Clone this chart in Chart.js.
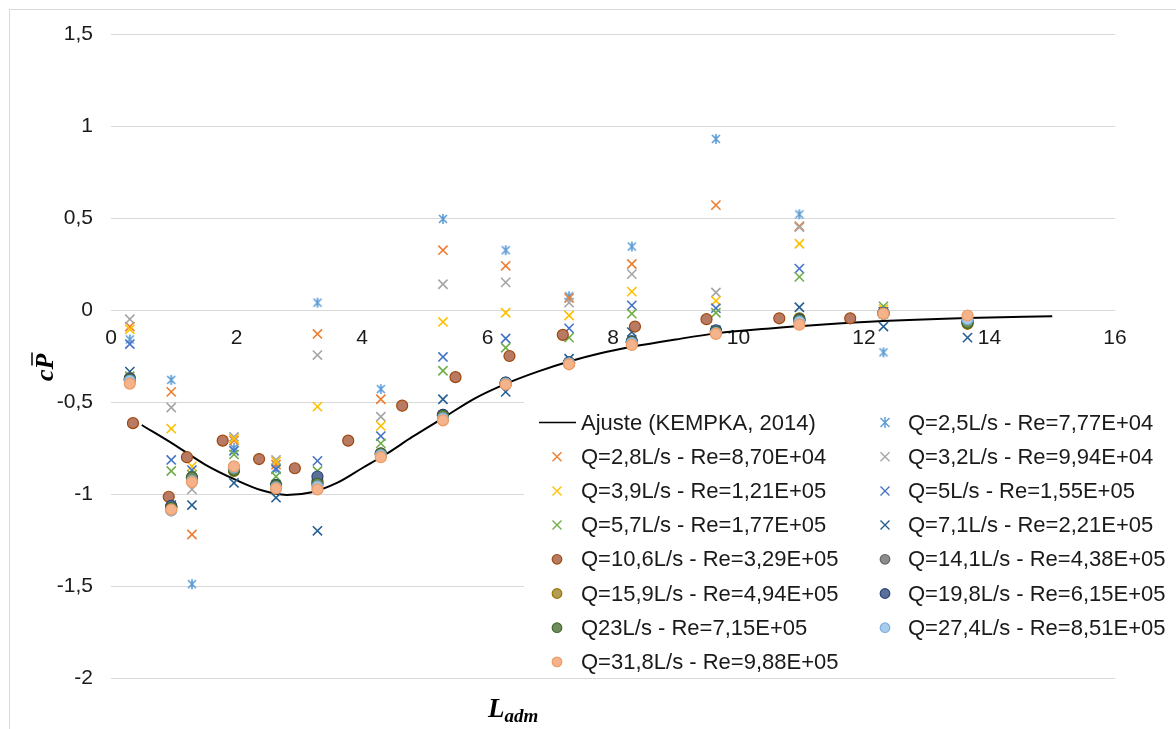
<!DOCTYPE html>
<html>
<head>
<meta charset="utf-8">
<script src="https://cdn.jsdelivr.net/npm/chart.js@4.4.1/dist/chart.umd.min.js"></script>
<style>
  html, body { margin: 0; padding: 0; background: #fff; }
  #wrap { width: 1176px; height: 729px; position: relative; }
</style>
</head>
<body>
<div id="wrap"><canvas id="chart-cp"></canvas></div>
<script>
// L_adm of the pressure taps (most series)
const lAdm = [0.30, 0.96, 1.29, 1.96, 2.63, 3.29, 4.30, 5.29, 6.29, 7.30, 8.30, 9.64, 10.97, 12.31, 13.65];
// Q=10,6 L/s was read at other taps
const lAdm106 = [0.35, 0.92, 1.21, 1.78, 2.36, 2.93, 3.78, 4.64, 5.49, 6.35, 7.20, 8.35, 9.49, 10.65, 11.78];

// fitted curve (KEMPKA, 2014)
const fitL = [0.49, 1.0, 1.5, 2.0, 2.4, 2.8, 3.2, 3.6, 4.0, 4.4, 4.8, 5.3, 5.8, 6.3, 6.8, 7.3, 7.8, 8.3, 9.0, 9.65, 10.5, 11.3, 12.3, 13.65, 15.0];
const fitCp = [-0.625, -0.73, -0.84, -0.925, -0.98, -1.005, -0.99, -0.94, -0.86, -0.78, -0.69, -0.585, -0.48, -0.40, -0.335, -0.28, -0.235, -0.20, -0.16, -0.127, -0.10, -0.08, -0.06, -0.043, -0.034];

// mean pressure coefficient per flow rate
const cpQ25 = [-0.16, -0.38, -1.49, -0.75, -0.86, 0.04, -0.43, 0.495, 0.325, 0.075, 0.345, 0.93, 0.52, -0.23, -0.06];
const cpQ28 = [-0.09, -0.445, -1.22, -0.71, -0.84, -0.13, -0.485, 0.325, 0.24, 0.065, 0.25, 0.57, 0.455, -0.01, -0.06];
const cpQ32 = [-0.05, -0.53, -0.975, -0.69, -0.815, -0.245, -0.58, 0.14, 0.15, 0.04, 0.195, 0.095, 0.45, -0.01, -0.065];
const cpQ39 = [-0.105, -0.645, -0.85, -0.70, -0.825, -0.525, -0.63, -0.065, -0.015, -0.03, 0.10, 0.05, 0.36, 0.005, -0.06];
const cpQ50 = [-0.185, -0.815, -0.87, -0.765, -0.865, -0.82, -0.685, -0.255, -0.155, -0.10, 0.025, 0.01, 0.225, -0.01, -0.06];
const cpQ57 = [-0.36, -0.875, -0.895, -0.785, -0.905, -0.875, -0.725, -0.33, -0.205, -0.15, -0.02, -0.015, 0.18, 0.02, -0.06];
const cpQ71 = [-0.335, -1.06, -1.06, -0.94, -1.02, -1.20, -0.79, -0.485, -0.445, -0.265, -0.12, -0.11, 0.015, -0.09, -0.15];
const cpQ106 = [-0.615, -1.015, -0.80, -0.71, -0.81, -0.86, -0.71, -0.52, -0.365, -0.25, -0.135, -0.09, -0.05, -0.045, -0.045];
const cpQ141 = [-0.37, -1.07, -0.915, -0.865, -0.955, -0.93, -0.78, -0.57, -0.395, -0.285, -0.17, -0.115, -0.055, -0.015, -0.06];
const cpQ159 = [-0.38, -1.07, -0.92, -0.875, -0.96, -0.94, -0.785, -0.575, -0.40, -0.29, -0.175, -0.12, -0.045, -0.02, -0.075];
const cpQ198 = [-0.375, -1.065, -0.91, -0.86, -0.95, -0.905, -0.78, -0.57, -0.395, -0.285, -0.17, -0.11, -0.05, -0.015, -0.065];
const cpQ23 = [-0.38, -1.075, -0.91, -0.87, -0.955, -0.945, -0.78, -0.575, -0.40, -0.29, -0.175, -0.12, -0.055, -0.02, -0.07];
const cpQ274 = [-0.385, -1.09, -0.93, -0.855, -0.965, -0.96, -0.79, -0.59, -0.40, -0.29, -0.18, -0.125, -0.065, -0.02, -0.05];
const cpQ318 = [-0.40, -1.085, -0.935, -0.85, -0.97, -0.975, -0.80, -0.60, -0.405, -0.295, -0.19, -0.13, -0.08, -0.02, -0.03];

const xTicks = [0, 2, 4, 6, 8, 10, 12, 14, 16];
const yTicks = [-2, -1.5, -1, -0.5, 0, 0.5, 1, 1.5];

function pts(xs, ys) {
  return xs.map((x, i) => ({ x: x, y: ys[i] }));
}

// excel-like "star" marker: an x with a vertical bar
function starMarker(color, size) {
  const c = document.createElement("canvas");
  c.width = size;
  c.height = size;
  const g = c.getContext("2d");
  const m = size / 2, r = size / 2 - 1;
  g.strokeStyle = color;
  g.lineWidth = 1.6;
  g.beginPath();
  g.moveTo(m - r * 0.8, m - r * 0.8); g.lineTo(m + r * 0.8, m + r * 0.8);
  g.moveTo(m + r * 0.8, m - r * 0.8); g.lineTo(m - r * 0.8, m + r * 0.8);
  g.moveTo(m, m - r); g.lineTo(m, m + r);
  g.stroke();
  return c;
}

// [label, x values, y values, marker, stroke, fill]
const series = [
  ["Ajuste (KEMPKA, 2014)", fitL, fitCp, "line", "#000000", null],
  ["Q=2,5L/s - Re=7,77E+04", lAdm, cpQ25, "star", "#5B9BD5", null],
  ["Q=2,8L/s - Re=8,70E+04", lAdm, cpQ28, "x", "#ED7D31", null],
  ["Q=3,2L/s - Re=9,94E+04", lAdm, cpQ32, "x", "#A5A5A5", null],
  ["Q=3,9L/s - Re=1,21E+05", lAdm, cpQ39, "x", "#FFC000", null],
  ["Q=5L/s - Re=1,55E+05", lAdm, cpQ50, "x", "#4472C4", null],
  ["Q=5,7L/s - Re=1,77E+05", lAdm, cpQ57, "x", "#70AD47", null],
  ["Q=7,1L/s - Re=2,21E+05", lAdm, cpQ71, "x", "#255E91", null],
  ["Q=10,6L/s - Re=3,29E+05", lAdm106, cpQ106, "circle", "#9E480E", "#b87a62"],
  ["Q=14,1L/s - Re=4,38E+05", lAdm, cpQ141, "circle", "#636363", "#8c8c8c"],
  ["Q=15,9L/s - Re=4,94E+05", lAdm, cpQ159, "circle", "#997300", "#b59c55"],
  ["Q=19,8L/s - Re=6,15E+05", lAdm, cpQ198, "circle", "#264478", "#5b6f98"],
  ["Q23L/s - Re=7,15E+05", lAdm, cpQ23, "circle", "#43682B", "#6f8c5c"],
  ["Q=27,4L/s - Re=8,51E+05", lAdm, cpQ274, "circle", "#7CAFDD", "#a8cbeb"],
  ["Q=31,8L/s - Re=9,88E+05", lAdm, cpQ318, "circle", "#EE9A62", "#f5b38c"],
];

const datasets = series.map((s, i) => {
  const ds = {
    label: s[0],
    data: pts(s[1], s[2]),
    order: series.length - i, // later series on top, like excel
  };
  if (s[3] === "line") {
    ds.showLine = true;
    ds.borderColor = s[4];
    ds.borderWidth = 2;
    ds.pointRadius = 0;
    ds.cubicInterpolationMode = "monotone";
  } else if (s[3] === "star") {
    ds.pointStyle = starMarker(s[4], 12);
    ds.pointRadius = 6;
  } else if (s[3] === "x") {
    ds.pointStyle = "crossRot";
    ds.pointRadius = 6.5;
    ds.borderColor = s[4];
    ds.borderWidth = 1.6;
  } else {
    ds.pointStyle = "circle";
    ds.pointRadius = 5.5;
    ds.borderColor = s[4];
    ds.backgroundColor = s[5];
    ds.borderWidth = 1.2;
  }
  return ds;
});

function drawLegendMarker(ctx, s, x, y) {
  ctx.save();
  if (s[3] === "line") {
    ctx.strokeStyle = s[4];
    ctx.lineWidth = 1.6;
    ctx.beginPath();
    ctx.moveTo(x - 18, y);
    ctx.lineTo(x + 19, y);
    ctx.stroke();
  } else if (s[3] === "circle") {
    ctx.fillStyle = s[5];
    ctx.strokeStyle = s[4];
    ctx.lineWidth = 1.2;
    ctx.beginPath();
    ctx.arc(x, y, 4.8, 0, Math.PI * 2);
    ctx.fill();
    ctx.stroke();
  } else {
    ctx.strokeStyle = s[4];
    ctx.lineWidth = 1.4;
    ctx.beginPath();
    ctx.moveTo(x - 4.5, y - 4.5); ctx.lineTo(x + 4.5, y + 4.5);
    ctx.moveTo(x + 4.5, y - 4.5); ctx.lineTo(x - 4.5, y + 4.5);
    if (s[3] === "star") {
      ctx.moveTo(x, y - 5.5); ctx.lineTo(x, y + 5.5);
    }
    ctx.stroke();
  }
  ctx.restore();
}

const decorPlugin = {
  id: "excelDecor",
  beforeDraw(chart) {
    const ctx = chart.ctx;
    ctx.save();
    ctx.strokeStyle = "#d9d9d9";
    ctx.lineWidth = 1;
    ctx.strokeRect(9.5, 9.5, 1200, 800);
    ctx.restore();
  },
  afterDraw(chart) {
    const ctx = chart.ctx;
    ctx.save();
    // legend box over the plot
    ctx.fillStyle = "#ffffff";
    ctx.fillRect(524, 398, 652, 276);
    ctx.font = '22px "Liberation Sans", Arial, sans-serif';
    ctx.textBaseline = "middle";
    series.forEach((s, i) => {
      const col = i % 2;
      const row = Math.floor(i / 2);
      const y = 422.5 + row * 34.2;
      drawLegendMarker(ctx, s, col ? 885 : 557, y);
      ctx.fillStyle = "#1a1a1a";
      ctx.fillText(s[0], col ? 908 : 581, y + 1);
    });

    // x title: L_adm
    ctx.fillStyle = "#000";
    ctx.textBaseline = "alphabetic";
    ctx.font = 'bold italic 27px "Liberation Serif", "DejaVu Serif", serif';
    ctx.fillText("L", 488, 717);
    const lw = ctx.measureText("L").width;
    ctx.font = 'bold italic 19px "Liberation Serif", "DejaVu Serif", serif';
    ctx.fillText("adm", 488 + lw, 722);

    // y title: c P-bar, rotated
    ctx.translate(53, 381);
    ctx.rotate(-Math.PI / 2);
    ctx.font = 'bold italic 26px "Liberation Serif", "DejaVu Serif", serif';
    ctx.fillText("c", 0, 0);
    const cw = ctx.measureText("c").width;
    ctx.fillText("P", cw, 0);
    const pw = ctx.measureText("P").width;
    ctx.strokeStyle = "#000";
    ctx.lineWidth = 1.5;
    ctx.beginPath();
    ctx.moveTo(cw + 4, -21);
    ctx.lineTo(cw + pw + 1, -21);
    ctx.stroke();
    ctx.restore();
  },
};

const ctx = document.getElementById("chart-cp").getContext("2d");
new Chart(ctx, {
  type: "scatter",
  data: { datasets: datasets },
  plugins: [decorPlugin],
  options: {
    responsive: true,
    maintainAspectRatio: false,
    animation: false,
    layout: {
      padding: { left: 0, top: 34, right: 61, bottom: 51 },
    },
    plugins: {
      legend: { display: false },
      tooltip: { enabled: false },
    },
    scales: {
      x: {
        type: "linear",
        position: { y: 0 },
        min: 0,
        max: 16,
        afterBuildTicks: (scale) => {
          scale.ticks = xTicks.map((v) => ({ value: v }));
        },
        grid: { display: false, drawTicks: false },
        border: { display: false },
        ticks: {
          padding: 16,
          color: "#1a1a1a",
          font: { size: 21, family: '"Liberation Sans", Arial, sans-serif' },
        },
      },
      y: {
        type: "linear",
        min: -2,
        max: 1.5,
        afterBuildTicks: (scale) => {
          scale.ticks = yTicks.map((v) => ({ value: v }));
        },
        afterFit: (scale) => {
          scale.width = 111;
        },
        grid: { color: "#d9d9d9", lineWidth: 1, drawTicks: false },
        border: { display: false },
        ticks: {
          padding: 18,
          color: "#1a1a1a",
          font: { size: 21, family: '"Liberation Sans", Arial, sans-serif' },
          callback: (value) => String(value).replace(".", ","),
        },
      },
    },
  },
});
</script>
</body>
</html>
